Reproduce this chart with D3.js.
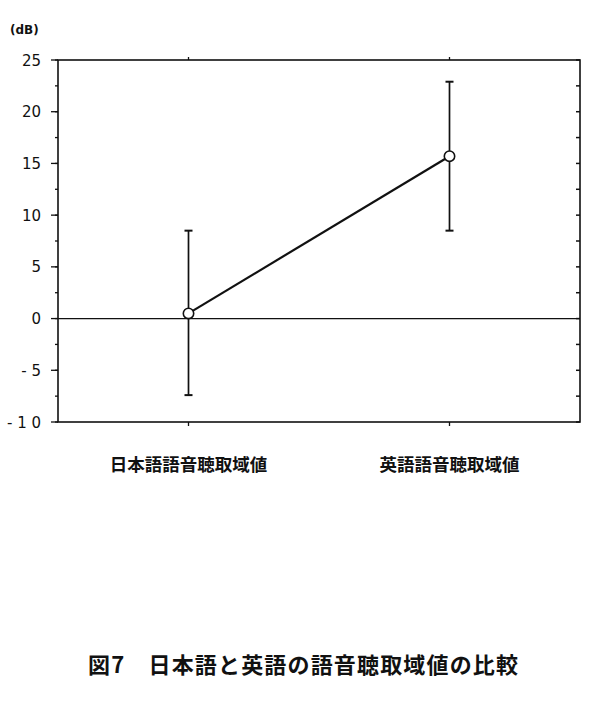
<!DOCTYPE html>
<html>
<head>
<meta charset="utf-8">
<script src="https://d3js.org/d3.v7.min.js"></script>
<style>
  body { margin: 0; background: #fff; }
  text { fill: #111; }
</style>
</head>
<body>
<script>
  // chart data
  var categories = ["日本語語音聴取域値", "英語語音聴取域値"];
  var means = [0.5, 15.7];
  var errLow = [-7.4, 8.5];
  var errHigh = [8.5, 22.9];
  var yTicks = [25, 20, 15, 10, 5, 0, -5, -10];
  var yTickLabels = ["25", "20", "15", "10", "5", "0", "- 5", "- 1 0"];
  var minorTicks = d3.range(-10, 25.01, 2.5);

  var W = 600, H = 705;
  var mLeft = 58, mRight = 580, mTop = 60, mBottom = 422;

  var svg = d3.select("body").append("svg")
      .attr("width", W)
      .attr("height", H);

  var x = d3.scaleBand().domain(categories).range([mLeft, mRight]).padding(0);
  var y = d3.scaleLinear().domain([-10, 25]).range([mBottom, mTop]);
  var cx = function(c) { return x(c) + x.bandwidth() / 2; };

  // frame
  svg.append("rect")
      .attr("x", mLeft).attr("y", mTop)
      .attr("width", mRight - mLeft).attr("height", mBottom - mTop)
      .attr("fill", "none").attr("stroke", "#111").attr("stroke-width", 1.6);

  // left axis: major ticks out, minor short
  svg.selectAll(".minL").data(minorTicks).enter().append("line")
      .attr("x1", mLeft - 3).attr("x2", mLeft)
      .attr("y1", function(d) { return y(d); }).attr("y2", function(d) { return y(d); })
      .attr("stroke", "#111").attr("stroke-width", 1.3);
  svg.selectAll(".majL").data(yTicks).enter().append("line")
      .attr("x1", mLeft - 7).attr("x2", mLeft)
      .attr("y1", function(d) { return y(d); }).attr("y2", function(d) { return y(d); })
      .attr("stroke", "#111").attr("stroke-width", 1.3);
  svg.selectAll(".lab").data(yTicks).enter().append("text")
      .attr("x", 41)
      .attr("y", function(d) { return y(d) + 5.5; })
      .attr("text-anchor", "end")
      .attr("font-family", "DejaVu Sans, sans-serif")
      .attr("font-size", "15px")
      .text(function(d, i) { return yTickLabels[i]; });

  // right axis: inward ticks
  svg.selectAll(".minR").data(minorTicks).enter().append("line")
      .attr("x1", mRight - 4).attr("x2", mRight)
      .attr("y1", function(d) { return y(d); }).attr("y2", function(d) { return y(d); })
      .attr("stroke", "#111").attr("stroke-width", 1.5);

  // category ticks top and bottom
  svg.selectAll(".tb").data(categories).enter().append("line")
      .attr("x1", cx).attr("x2", cx)
      .attr("y1", mBottom).attr("y2", mBottom + 4)
      .attr("stroke", "#111").attr("stroke-width", 1.3);
  svg.selectAll(".tt").data(categories).enter().append("line")
      .attr("x1", cx).attr("x2", cx)
      .attr("y1", mTop - 3).attr("y2", mTop)
      .attr("stroke", "#111").attr("stroke-width", 1.3);

  // zero line
  svg.append("line")
      .attr("x1", mLeft).attr("x2", mRight)
      .attr("y1", y(0)).attr("y2", y(0))
      .attr("stroke", "#111").attr("stroke-width", 1.3);

  // error bars
  categories.forEach(function(c, i) {
    svg.append("line")
        .attr("x1", cx(c)).attr("x2", cx(c))
        .attr("y1", y(errLow[i])).attr("y2", y(errHigh[i]))
        .attr("stroke", "#111").attr("stroke-width", 1.7);
    [errLow[i], errHigh[i]].forEach(function(v) {
      svg.append("line")
          .attr("x1", cx(c) - 4).attr("x2", cx(c) + 4)
          .attr("y1", y(v)).attr("y2", y(v))
          .attr("stroke", "#111").attr("stroke-width", 2);
    });
  });

  // mean line
  var line = d3.line()
      .x(function(d, i) { return cx(categories[i]); })
      .y(function(d) { return y(d); });
  svg.append("path").datum(means)
      .attr("d", line)
      .attr("fill", "none").attr("stroke", "#111").attr("stroke-width", 2.2);

  svg.selectAll(".pt").data(means).enter().append("circle")
      .attr("cx", function(d, i) { return cx(categories[i]); })
      .attr("cy", function(d) { return y(d); })
      .attr("r", 5.2)
      .attr("fill", "#fff").attr("stroke", "#111").attr("stroke-width", 1.6);

  // category labels
  svg.selectAll(".cat").data(categories).enter().append("text")
      .attr("x", cx)
      .attr("y", 471)
      .attr("text-anchor", "middle")
      .attr("font-family", "Noto Sans CJK JP, sans-serif")
      .attr("font-weight", "bold")
      .attr("font-size", "17.5px")
      .text(function(d) { return d; });

  // unit
  svg.append("text")
      .attr("x", 10).attr("y", 34)
      .attr("font-family", "DejaVu Sans, sans-serif")
      .attr("font-weight", "bold")
      .attr("font-size", "12px")
      .text("(dB)");

  // caption
  svg.append("text")
      .attr("x", 88).attr("y", 673)
      .attr("font-family", "Noto Sans CJK JP, sans-serif")
      .attr("font-weight", "bold")
      .attr("font-size", "22px")
      .attr("textLength", 430)
      .text("図7　日本語と英語の語音聴取域値の比較");
</script>
</body>
</html>
